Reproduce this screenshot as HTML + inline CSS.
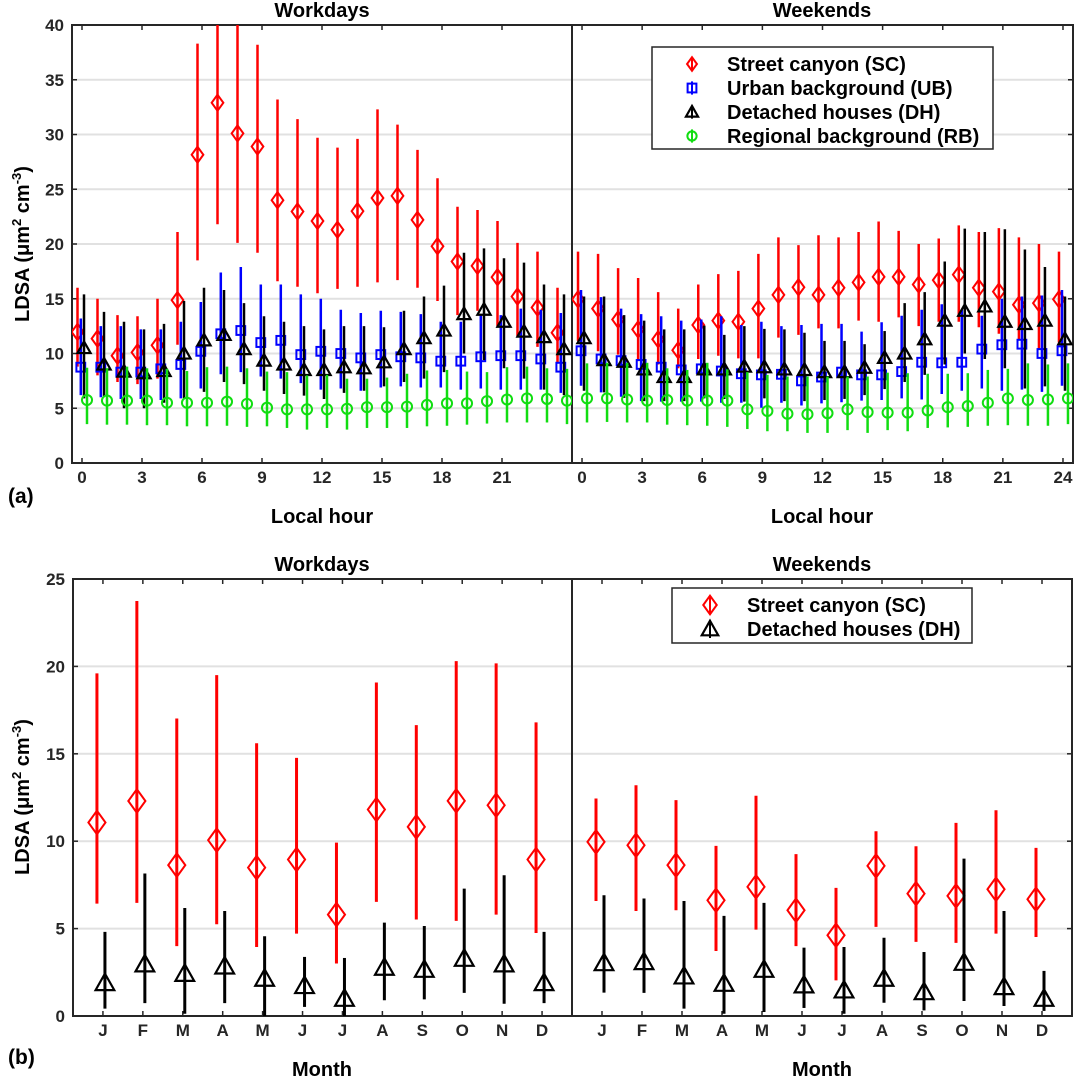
<!DOCTYPE html>
<html><head><meta charset="utf-8"><style>
html,body{margin:0;padding:0;background:#fff;}
svg{display:block;font-family:"Liberation Sans",Arial,sans-serif;font-weight:bold;}
</style></head><body>
<svg id="chart" width="1077" height="1079" viewBox="0 0 1077 1079" xmlns="http://www.w3.org/2000/svg">
<defs>
<clipPath id="clipTL"><rect x="72" y="25" width="500" height="438"/></clipPath>
<clipPath id="clipTR"><rect x="572" y="25" width="501" height="438"/></clipPath>
<clipPath id="clipBL"><rect x="73" y="579" width="499" height="437"/></clipPath>
<clipPath id="clipBR"><rect x="572" y="579" width="500" height="437"/></clipPath>
</defs>
</svg>
<script>
// ---------- Data: hourly (panel a) ----------
const hours = [0,1,2,3,4,5,6,7,8,9,10,11,12,13,14,15,16,17,18,19,20,21,22,23,24];
// Workdays
const wdSC  = [11.97,11.36,9.8,10.1,10.75,14.87,28.15,32.9,30.1,28.9,24.0,22.97,22.1,21.3,23.0,24.2,24.4,22.2,19.8,18.4,18.0,16.97,15.2,14.2,11.9];
const wdSChi= [16.0,15.0,13.5,13.4,15.0,21.1,38.3,42,42,38.2,33.2,31.4,29.7,28.8,29.6,32.3,30.9,28.6,26.0,23.4,23.1,22.1,20.1,19.3,16.0];
const wdSClo= [8.8,8.0,7.4,7.2,7.7,10.8,18.5,21.8,20.1,19.2,16.6,16.1,15.5,15.9,16.1,16.5,16.7,16.0,14.8,13.5,13.9,12.5,11.6,10.6,9.1];
const wdUB  = [8.75,8.75,8.3,8.3,8.6,9.0,10.2,11.8,12.1,11.0,11.2,9.9,10.2,10.0,9.6,9.9,9.7,9.6,9.3,9.3,9.7,9.8,9.8,9.5,8.75];
const wdUBhi= [13.2,12.5,12.5,12.2,12.2,12.9,14.7,17.4,17.9,16.3,16.3,15.4,15.0,14.0,13.7,13.9,13.8,13.6,12.9,12.9,13.5,13.5,14.1,14.0,13.7];
const wdUBlo= [6.2,6.0,5.85,5.85,5.75,5.9,6.8,8.1,8.3,7.9,7.7,7.3,6.7,6.8,6.6,6.9,7.0,6.9,6.9,6.7,6.8,6.7,6.7,6.7,6.4];
const wdDH  = [10.5,9.0,8.35,8.2,8.4,10.0,11.2,11.7,10.4,9.35,9.0,8.5,8.5,8.75,8.65,9.2,10.4,11.4,12.1,13.6,14.0,12.9,12.0,11.5,10.4];
const wdDHhi= [15.4,13.8,12.9,12.2,12.7,14.8,16.0,15.8,14.6,13.4,12.9,12.5,12.2,12.5,12.5,12.4,13.9,15.2,16.2,19.2,19.6,18.7,18.3,16.3,15.4];
const wdDHlo= [5.9,6.1,5.0,5.0,5.5,5.9,6.5,7.4,7.2,6.6,6.3,6.15,5.85,6.4,6.6,7.0,7.4,7.7,8.3,10.0,9.4,8.65,7.7,6.7,6.2];
const wdRB  = [5.75,5.7,5.7,5.7,5.5,5.5,5.5,5.6,5.4,5.05,4.9,4.9,4.9,4.95,5.1,5.1,5.15,5.3,5.45,5.45,5.65,5.8,5.9,5.85,5.7];
const wdRBhi= [8.7,8.65,8.8,8.65,8.6,8.4,8.75,8.8,8.65,8.35,8.3,8.0,8.05,7.7,7.7,7.8,8.15,8.45,8.5,8.35,8.3,8.75,8.8,8.65,8.6];
const wdRBlo= [3.55,3.5,3.5,3.45,3.45,3.35,3.35,3.4,3.3,3.35,3.2,3.05,3.2,3.05,3.2,3.2,3.2,3.35,3.4,3.5,3.6,3.7,3.7,3.7,3.55];
// Weekends
const weSC  = [14.95,14.1,13.1,12.2,11.3,10.3,12.6,13.0,12.9,14.1,15.35,16.05,15.35,16.0,16.5,17.0,17.0,16.3,16.7,17.2,16.0,15.65,14.45,14.6,14.95];
const weSChi= [19.3,19.1,17.8,16.9,15.6,14.1,16.3,17.25,17.55,19.1,20.6,19.9,20.8,20.6,21.1,22.05,21.2,20.0,20.5,21.7,21.1,21.45,20.6,20.0,19.3];
const weSClo= [11.15,10.2,9.9,9.3,9.0,8.65,9.5,9.8,9.55,9.55,11.45,11.7,12.3,12.3,13.0,12.9,13.3,12.5,12.9,12.9,12.4,11.8,11.2,10.4,11.0];
const weUB  = [10.25,9.5,9.35,9.0,8.75,8.5,8.6,8.4,8.15,8.05,8.1,7.5,7.85,8.3,8.05,8.05,8.35,9.2,9.15,9.2,10.4,10.8,10.85,10.0,10.25];
const weUBhi= [15.8,15.15,14.1,13.6,13.4,13.0,13.1,13.4,12.6,12.9,12.5,12.6,12.7,12.7,12.0,12.85,13.45,14.0,14.5,14.0,13.45,15.0,15.2,15.3,15.8];
const weUBlo= [7.05,6.45,6.05,5.65,5.6,5.6,5.6,5.5,5.5,5.05,5.5,5.25,5.45,5.55,5.7,5.75,5.9,5.8,6.3,6.6,6.8,6.6,6.7,6.5,7.05];
const weDH  = [11.4,9.4,9.25,8.55,7.85,7.85,8.55,8.55,8.8,8.75,8.55,8.5,8.3,8.3,8.7,9.6,10.0,11.3,13.0,13.9,14.3,12.9,12.7,13.0,11.3];
const weDHhi= [15.2,15.2,13.5,13.0,12.2,12.2,12.55,11.7,12.5,12.25,12.2,11.9,11.15,11.15,10.85,12.05,14.6,15.6,18.4,21.4,21.1,21.35,19.5,17.9,15.2];
const weDHlo= [6.6,6.45,5.95,5.65,5.65,5.65,5.9,5.85,5.6,5.9,5.65,5.65,5.75,5.85,6.2,6.75,7.4,8.05,9.0,10.0,9.5,8.65,6.8,7.0,6.6];
const weRB  = [5.9,5.9,5.8,5.7,5.75,5.7,5.7,5.7,4.9,4.75,4.5,4.45,4.55,4.9,4.65,4.6,4.6,4.8,5.1,5.2,5.5,5.9,5.75,5.8,5.9];
const weRBhi= [9.1,9.15,9.15,9.15,8.65,8.5,9.15,8.55,8.3,8.05,7.9,7.9,7.9,7.9,7.9,8.25,8.2,8.15,8.15,8.2,8.5,8.6,9.1,9.0,9.1];
const weRBlo= [3.7,3.75,3.7,3.7,3.5,3.45,3.4,3.3,3.1,2.9,2.9,2.75,2.75,3.0,2.75,3.0,2.9,3.2,3.25,3.3,3.4,3.45,3.4,3.4,3.55];
const hourTicksLeft = [0,3,6,9,12,15,18,21];
const hourTicksRight = [0,3,6,9,12,15,18,21,24];
const yTicksTop = [0,5,10,15,20,25,30,35,40];

// ---------- Data: monthly (panel b) ----------
const months = [1,2,3,4,5,6,7,8,9,10,11,12];
const monthLabels = ["J","F","M","A","M","J","J","A","S","O","N","D"];
const mwSC  = [11.07,12.3,8.63,10.06,8.49,8.95,5.8,11.81,10.82,12.31,12.06,8.95];
const mwSChi= [19.6,23.74,17.02,19.5,15.6,14.77,9.92,19.08,16.64,20.3,20.17,16.8];
const mwSClo= [6.43,6.47,4.0,5.25,3.95,4.71,3.0,6.53,5.52,5.44,5.8,4.75];
const mwDH  = [1.89,2.96,2.42,2.84,2.14,1.72,0.99,2.77,2.65,3.28,2.96,1.89];
const mwDHhi= [4.81,8.15,6.18,6.01,4.56,3.38,3.32,5.34,5.15,7.29,8.05,4.81];
const mwDHlo= [0.42,0.74,0.13,0.74,0,0.52,0,0.9,0.95,1.32,0.7,0.74];
const meSC  = [9.96,9.77,8.63,6.62,7.39,6.05,4.62,8.59,7.0,6.87,7.25,6.68];
const meSChi= [12.44,13.2,12.35,9.73,12.6,9.26,7.33,10.57,9.71,11.05,11.77,9.62];
const meSClo= [6.58,6.01,6.05,3.72,4.94,4.0,2.04,5.1,4.24,4.18,4.71,4.52];
const meDH  = [3.03,3.09,2.27,1.85,2.65,1.76,1.47,2.14,1.37,3.05,1.66,0.99];
const meDHhi= [6.91,6.72,6.58,5.73,6.47,3.91,3.95,4.48,3.66,9.0,6.01,2.58];
const meDHlo= [1.34,1.32,0.42,0.13,0.23,0.46,0.13,0.76,0.32,0.86,0.57,0.29];
const yTicksBottom = [0,5,10,15,20,25];

const svg = document.getElementById('chart');
const NS = 'http://www.w3.org/2000/svg';
function mk(tag, attrs, parent){
  const e = document.createElementNS(NS, tag);
  for (const k in attrs) e.setAttribute(k, attrs[k]);
  (parent||svg).appendChild(e);
  return e;
}
function axisFns(x0,x1,y0,y1,xmin,xmax,ymin,ymax){
  return {
    x: v => x0 + (v - xmin) / (xmax - xmin) * (x1 - x0),
    y: v => y1 - (v - ymin) / (ymax - ymin) * (y1 - y0)
  };
}
function marker(g, type, cx, cy, color, s){
  let e;
  if (type === 'diamond'){
    e = mk('path', {d:`M${cx} ${cy-s*0.62}L${cx+s*0.45} ${cy}L${cx} ${cy+s*0.62}L${cx-s*0.45} ${cy}Z`, fill:'none', stroke:color, 'stroke-width':2}, g);
  } else if (type === 'square'){
    e = mk('rect', {x:cx-s*0.4, y:cy-s*0.4, width:s*0.8, height:s*0.8, fill:'none', stroke:color, 'stroke-width':2}, g);
  } else if (type === 'triangle'){
    e = mk('path', {d:`M${cx} ${cy-s*0.55}L${cx+s*0.55} ${cy+s*0.42}L${cx-s*0.55} ${cy+s*0.42}Z`, fill:'none', stroke:color, 'stroke-width':2.2}, g);
  } else {
    e = mk('circle', {cx:cx, cy:cy, r:s*0.42, fill:'none', stroke:color, 'stroke-width':2}, g);
  }
  return e;
}
function drawSeries(ax, clip, xs, mid, hi, lo, offset, color, type, size, bw, name){
  const g = mk('g', {'clip-path':`url(#${clip})`});
  
  
  for (let i = 0; i < xs.length; i++){
    const cx = ax.x(xs[i]) + offset;
    const bar = mk('line', {x1:cx, x2:cx, y1:ax.y(lo[i]), y2:ax.y(hi[i]), stroke:color, 'stroke-width':bw}, g);
    
    
    const m = marker(g, type, cx, ax.y(mid[i]), color, size);
    
    
  }
}
function drawFrame(name, x0,x1,y0,y1, ax, yTicks, xTicks, xLabels, leftLabels, rightTicks){
  const g = mk('g', {});
  
  
  yTicks.forEach(v => {
    const yy = ax.y(v);
    if (v > yTicks[0] && v < yTicks[yTicks.length-1]) {
      const gl = mk('line', {x1:x0, x2:x1, y1:yy, y2:yy, stroke:'#e1e1e1', 'stroke-width':2}, g);
      
      
    }
    if (leftLabels) {
      mk('line', {x1:x0, x2:x0+5, y1:yy, y2:yy, stroke:'#262626', 'stroke-width':1.5}, g);
      const t = mk('text', {x:x0-8, y:yy+6, 'text-anchor':'end', 'font-size':17, fill:'#262626'}, g);
      t.textContent = v;
      
      
    }
    if (rightTicks) mk('line', {x1:x1, x2:x1-5, y1:yy, y2:yy, stroke:'#262626', 'stroke-width':1.5}, g);
  });
  xTicks.forEach((v, i) => {
    const xx = ax.x(v);
    mk('line', {x1:xx, x2:xx, y1:y1, y2:y1-5, stroke:'#262626', 'stroke-width':1.5}, g);
    mk('line', {x1:xx, x2:xx, y1:y0, y2:y0+5, stroke:'#262626', 'stroke-width':1.5}, g);
    const t = mk('text', {x:xx, y:y1+20, 'text-anchor':'middle', 'font-size':17, fill:'#262626'}, g);
    t.textContent = xLabels[i];
    
    
  });
  mk('rect', {x:x0, y:y0, width:x1-x0, height:y1-y0, fill:'none', stroke:'#262626', 'stroke-width':2}, g);
}

// ---------- Panel (a) ----------
const axTL = axisFns(72,572,25,463,-0.5,24.5,0,40);
const axTR = axisFns(572,1073,25,463,-0.5,24.5,0,40);
drawFrame('panel-a-workdays-axes',72,572,25,463,axTL,yTicksTop,hourTicksLeft,hourTicksLeft,true,false);
drawFrame('panel-a-weekends-axes',572,1073,25,463,axTR,yTicksTop,hourTicksRight,hourTicksRight,false,true);
drawSeries(axTL,'clipTL',hours,wdSC,wdSChi,wdSClo,-4.5,'#ff0000','diamond',13,2.5,'workdays-sc');
drawSeries(axTL,'clipTL',hours,wdUB,wdUBhi,wdUBlo,-1.2,'#0000ff','square',11,2.5,'workdays-ub');
drawSeries(axTL,'clipTL',hours,wdDH,wdDHhi,wdDHlo,2,'#000000','triangle',12,2.5,'workdays-dh');
drawSeries(axTL,'clipTL',hours,wdRB,wdRBhi,wdRBlo,5,'#11dd11','circle',12,2.5,'workdays-rb');
drawSeries(axTR,'clipTR',hours,weSC,weSChi,weSClo,-4,'#ff0000','diamond',13,2.5,'weekends-sc');
drawSeries(axTR,'clipTR',hours,weUB,weUBhi,weUBlo,-1,'#0000ff','square',11,2.5,'weekends-ub');
drawSeries(axTR,'clipTR',hours,weDH,weDHhi,weDHlo,2,'#000000','triangle',12,2.5,'weekends-dh');
drawSeries(axTR,'clipTR',hours,weRB,weRBhi,weRBlo,5,'#11dd11','circle',12,2.5,'weekends-rb');

// ---------- Panel (b) ----------
const axBL = axisFns(73,572,579,1016,0.25,12.75,0,25);
const axBR = axisFns(572,1072,579,1016,0.25,12.75,0,25);
drawFrame('panel-b-workdays-axes',73,572,579,1016,axBL,yTicksBottom,months,monthLabels,true,false);
drawFrame('panel-b-weekends-axes',572,1072,579,1016,axBR,yTicksBottom,months,monthLabels,false,true);
drawSeries(axBL,'clipBL',months,mwSC,mwSChi,mwSClo,-6,'#ff0000','diamond',19,3,'monthly-workdays-sc');
drawSeries(axBL,'clipBL',months,mwDH,mwDHhi,mwDHlo,2,'#000000','triangle',17,3,'monthly-workdays-dh');
drawSeries(axBR,'clipBR',months,meSC,meSChi,meSClo,-6,'#ff0000','diamond',19,3,'monthly-weekends-sc');
drawSeries(axBR,'clipBR',months,meDH,meDHhi,meDHlo,2,'#000000','triangle',17,3,'monthly-weekends-dh');

// ---------- Legends ----------
function legend(name, x, y, w, h, items, mx, tx, y0, dy, size, fs){
  const g = mk('g', {});
  
  
  mk('rect', {x:x, y:y, width:w, height:h, fill:'#fff', stroke:'#262626', 'stroke-width':1.5}, g);
  items.forEach((it, i) => {
    const yy = y0 + i*dy;
    const eg = mk('g', {}, g);
    
    
    mk('line', {x1:mx, x2:mx, y1:yy-size*0.6, y2:yy+size*0.6, stroke:it[1], 'stroke-width':2}, eg);
    marker(eg, it[2], mx, yy, it[1], size);
    const t = mk('text', {x:tx, y:yy+fs*0.36, 'font-size':fs, fill:'#000'}, eg);
    t.textContent = it[0];
  });
}
legend('legend-panel-a', 652, 47, 341, 102, [
  ['Street canyon (SC)','#ff0000','diamond'],
  ['Urban background (UB)','#0000ff','square'],
  ['Detached houses (DH)','#000000','triangle'],
  ['Regional background (RB)','#11dd11','circle']
], 692, 727, 64, 24, 11, 20);
legend('legend-panel-b', 672, 588, 300, 55, [
  ['Street canyon (SC)','#ff0000','diamond'],
  ['Detached houses (DH)','#000000','triangle']
], 710, 747, 605, 24, 15, 20);

// ---------- Titles and labels ----------
function txt(name, s, attrs){
  const t = mk('text', attrs);
  t.textContent = s;
  
  
  return t;
}
txt('title-a-workdays','Workdays',{x:322,y:17,'text-anchor':'middle','font-size':20});
txt('title-a-weekends','Weekends',{x:822,y:17,'text-anchor':'middle','font-size':20});
txt('title-b-workdays','Workdays',{x:322,y:571,'text-anchor':'middle','font-size':20});
txt('title-b-weekends','Weekends',{x:822,y:571,'text-anchor':'middle','font-size':20});
txt('x-axis-title-a-left','Local hour',{x:322,y:523,'text-anchor':'middle','font-size':20});
txt('x-axis-title-a-right','Local hour',{x:822,y:523,'text-anchor':'middle','font-size':20});
txt('x-axis-title-b-left','Month',{x:322,y:1076,'text-anchor':'middle','font-size':20});
txt('x-axis-title-b-right','Month',{x:822,y:1076,'text-anchor':'middle','font-size':20});
txt('panel-label-a','(a)',{x:8,y:503,'font-size':21});
txt('panel-label-b','(b)',{x:8,y:1064,'font-size':21});
function ylabel(name, cy){
  const t = mk('text', {x:0, y:0, 'text-anchor':'middle', 'font-size':20, transform:`translate(29 ${cy}) rotate(-90)`});
  
  
  t.innerHTML = 'LDSA (μm<tspan font-size="13" dy="-8">2</tspan><tspan dy="8"> cm</tspan><tspan font-size="13" dy="-8">-3</tspan><tspan dy="8">)</tspan>';
}
ylabel('y-axis-title-a', 244);
ylabel('y-axis-title-b', 797);
</script>
</body></html>
